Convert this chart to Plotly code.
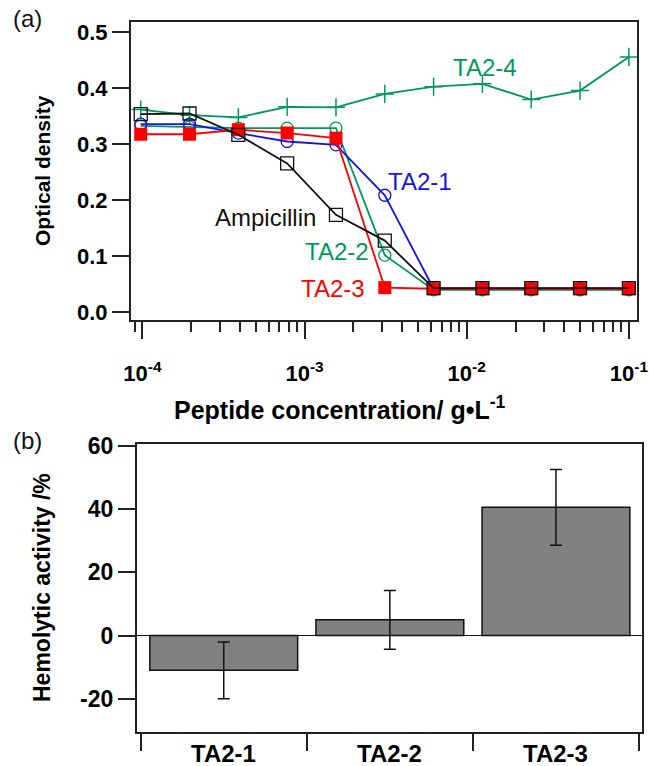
import plotly.graph_objects as go

W, H = 649, 766
FONT = "Liberation Sans"

# ---------------- data: panel (a) ----------------
conc = [0.1 / 2 ** k for k in range(10, -1, -1)]  # g/L, two-fold dilution series
od_ta2_1 = [0.336, 0.336, 0.320, 0.305, 0.299, 0.209, 0.042, 0.042, 0.042, 0.042, 0.042]
od_ta2_2 = [0.333, 0.331, 0.329, 0.329, 0.329, 0.102, 0.040, 0.040, 0.040, 0.040, 0.040]
od_ta2_3 = [0.318, 0.318, 0.326, 0.320, 0.311, 0.044, 0.042, 0.042, 0.042, 0.042, 0.042]
od_ta2_4 = [0.362, 0.352, 0.348, 0.367, 0.366, 0.390, 0.403, 0.408, 0.380, 0.396, 0.456]
od_ampicillin = [0.354, 0.355, 0.317, 0.266, 0.174, 0.128, 0.043, 0.043, 0.043, 0.043, 0.043]

x_tick_vals = [1e-4, 1e-3, 1e-2, 1e-1]
x_tick_text = ["10<sup>-4</sup>", "10<sup>-3</sup>", "10<sup>-2</sup>", "10<sup>-1</sup>"]
y_tick_vals_a = [0.0, 0.1, 0.2, 0.3, 0.4, 0.5]

# ---------------- data: panel (b) ----------------
peptides = ["TA2-1", "TA2-2", "TA2-3"]
hemolysis = [-11.0, 5.0, 40.6]
hemolysis_err = [9.0, 9.3, 12.0]
y_tick_vals_b = [-20, 0, 20, 40, 60]
y_tick_text_b = ["-20", "0", "20", "40", "60"]

GREEN = "#00995A"
BLUE = "#1414E6"
RED = "#FF0000"
BLACK = "#111111"


def px(x):
    return x / W


def py(y):
    return 1 - y / H


fig = go.Figure()

fig.add_trace(go.Scatter(x=conc, y=od_ta2_4, mode="lines+markers", name="TA2-4",
                         line=dict(color=GREEN, width=1.8),
                         marker=dict(symbol="cross-thin", size=13, line=dict(color=GREEN, width=1.5)),
                         xaxis="x", yaxis="y"))
fig.add_trace(go.Scatter(x=conc, y=od_ta2_2, mode="lines+markers", name="TA2-2",
                         line=dict(color=GREEN, width=1.8),
                         marker=dict(symbol="circle-open", size=12, line=dict(color=GREEN, width=1.3)),
                         xaxis="x", yaxis="y"))
fig.add_trace(go.Scatter(x=conc, y=od_ta2_1, mode="lines+markers", name="TA2-1",
                         line=dict(color=BLUE, width=1.8),
                         marker=dict(symbol="circle-open", size=12, line=dict(color=BLUE, width=1.3)),
                         xaxis="x", yaxis="y"))
fig.add_trace(go.Scatter(x=conc, y=od_ta2_3, mode="lines+markers", name="TA2-3",
                         line=dict(color=RED, width=1.8),
                         marker=dict(symbol="square", size=13, color=RED, line=dict(width=0)),
                         xaxis="x", yaxis="y"))
fig.add_trace(go.Scatter(x=conc, y=od_ampicillin, mode="lines+markers", name="Ampicillin",
                         line=dict(color=BLACK, width=1.8),
                         marker=dict(symbol="square-open", size=13, line=dict(color="#444444", width=1.3)),
                         xaxis="x", yaxis="y"))

fig.add_trace(go.Bar(x=peptides, y=hemolysis, name="Hemolysis",
                     marker=dict(color="#808080", line=dict(color=BLACK, width=1.5)),
                     error_y=dict(type="data", array=hemolysis_err, visible=True,
                                  color=BLACK, thickness=1.5, width=6),
                     xaxis="x2", yaxis="y2"))

bold = dict(family=FONT, color="black", weight="bold")
axis_common = dict(showline=True, linecolor="#222222", linewidth=1.5, mirror=True,
                   showgrid=False, zeroline=False, ticks="outside", tickwidth=1.5,
                   tickcolor="#222222", automargin=False)

minor_vals = [m * 10 ** e for e in range(-5, 0) for m in range(2, 10)]

fig.update_layout(
    width=W, height=H, margin=dict(l=0, r=0, t=0, b=0, autoexpand=False),
    paper_bgcolor="white", plot_bgcolor="white", showlegend=False,
    bargap=0.11,
    xaxis=dict(axis_common, type="log", domain=[px(130.7), px(637.3)],
               range=[-4.072, -0.948], tickvals=x_tick_vals, ticktext=x_tick_text,
               ticklen=17, ticklabelstandoff=16, tickfont=dict(bold, size=22),
               minor=dict(tickmode="array", tickvals=minor_vals, ticks="outside",
                          ticklen=10, tickwidth=1.5, tickcolor="#222222", showgrid=False),
               anchor="y"),
    yaxis=dict(axis_common, domain=[py(320), py(21.7)], range=[-0.0138, 0.519],
               tickvals=y_tick_vals_a, tickformat=".1f", ticklen=17,
               tickfont=dict(bold, size=22), anchor="x"),
    xaxis2=dict(axis_common, type="category", domain=[px(136.7), px(642)],
                range=[-0.524, 2.518], tickson="boundaries", ticklen=17,
                showticklabels=False, anchor="y2"),
    yaxis2=dict(axis_common, domain=[py(732.3), py(443.5)], range=[-30.6, 60.8],
                tickvals=y_tick_vals_b, ticktext=y_tick_text_b, ticklen=17,
                tickfont=dict(bold, size=23), zeroline=True,
                zerolinecolor=BLACK, zerolinewidth=1, anchor="x2"),
)

ann_font = dict(family=FONT, size=24)
annotations = [
    dict(text="TA2-4", x=px(485), y=py(67), font=dict(ann_font, color=GREEN)),
    dict(text="TA2-1", x=px(420), y=py(182), font=dict(ann_font, color=BLUE)),
    dict(text="Ampicillin", x=px(265), y=py(217), font=dict(ann_font, color=BLACK)),
    dict(text="TA2-2", x=px(337), y=py(252), font=dict(ann_font, color=GREEN)),
    dict(text="TA2-3", x=px(333), y=py(288), font=dict(ann_font, color=RED)),
    dict(text="(a)", x=px(27), y=py(18), font=dict(ann_font, color=BLACK)),
    dict(text="(b)", x=px(27), y=py(440), font=dict(ann_font, color=BLACK)),
    dict(text="Optical density", x=px(43), y=py(171), textangle=-90,
         font=dict(bold, size=21)),
    dict(text="Peptide concentration/ g\u2022L<sup>-1</sup>", x=px(340), y=py(408),
         font=dict(bold, size=25)),
    dict(text="Hemolytic activity /%", x=px(42), y=py(588), textangle=-90,
         font=dict(bold, size=23)),
]
for a in annotations:
    a.update(xref="paper", yref="paper")
# category labels of panel (b), placed on the category axis
for name in peptides:
    annotations.append(dict(text=name, x=name, xref="x2", y=py(753), yref="paper",
                            font=dict(bold, size=24)))
for a in annotations:
    a.update(showarrow=False, xanchor="center", yanchor="middle")
fig.update_layout(annotations=annotations)

fig.write_html("out.html", config={"displayModeBar": False},
               post_script="document.body.style.margin='0';document.body.style.overflow='hidden';")
